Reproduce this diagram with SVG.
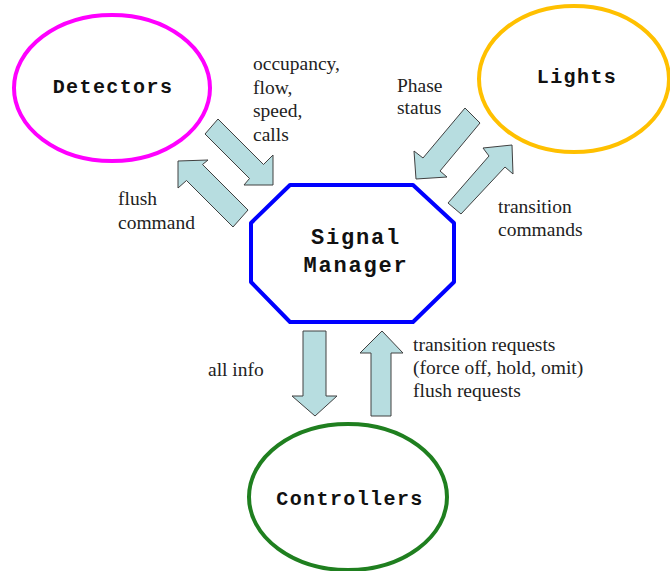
<svg xmlns="http://www.w3.org/2000/svg" width="670" height="571" viewBox="0 0 670 571">
<style>
.mono{font-family:"Liberation Mono","Courier New",monospace;font-weight:bold;font-size:20px;letter-spacing:1.4px;fill:#111;text-anchor:middle}
.big{font-size:22px;letter-spacing:1.8px}
.lbl{font-family:"Liberation Serif","Times New Roman",serif;font-size:19.5px;fill:#222}
.arrow{fill:#B7DDE0;stroke:#404040;stroke-width:1;stroke-linejoin:miter}
</style>
<rect width="670" height="571" fill="#fff"/>
<g id="detectors">
<ellipse cx="112" cy="88" rx="98" ry="73" fill="none" stroke="#FF00FF" stroke-width="4"/>
<text class="mono" x="113" y="92.5">Detectors</text>
</g>
<g id="lights">
<ellipse cx="574" cy="79" rx="95" ry="73" fill="none" stroke="#FFC000" stroke-width="4"/>
<text class="mono" x="577" y="83">Lights</text>
</g>
<g id="signal-manager">
<polygon points="290,185 413,185 454,223 454,282 413,322 290,322 251,282 251,223" fill="#fff" stroke="#0000FF" stroke-width="4" stroke-linejoin="round"/>
<text class="mono big" x="356" y="244">Signal</text>
<text class="mono big" x="356" y="272">Manager</text>
</g>
<g id="controllers">
<ellipse cx="348" cy="497" rx="99" ry="73" fill="none" stroke="#1F7F1F" stroke-width="4"/>
<text class="mono" x="350" y="505">Controllers</text>
</g>
<g id="connectors">
<polygon class="arrow" points="218,119 263.5,164.5 273,155 273,185 244,185 249.5,178.5 205,134"/>
<polygon class="arrow" points="248,210 202.5,164.5 208,160 178,161 178,188 186.5,180.5 233,227"/>
<polygon class="arrow" points="465,108 480,123 440,171 447,177 416,179 414,151 423,158"/>
<polygon class="arrow" points="448,203 489,156 483,148 512,145 513,174 505,167 461,214"/>
<polygon class="arrow" points="303,331 326,331 326,396 337,396 315,416 292,396 303,396"/>
<polygon class="arrow" points="371,416 391,416 391,353 403,353 382,331 360,353 371,353"/>
</g>
<g id="labels">
<text class="lbl" x="253" y="70">occupancy,</text>
<text class="lbl" x="253" y="93.5">flow,</text>
<text class="lbl" x="253" y="117">speed,</text>
<text class="lbl" x="253" y="140.5">calls</text>
<text class="lbl" x="118" y="205">flush</text>
<text class="lbl" x="118" y="229">command</text>
<text class="lbl" x="397" y="92">Phase</text>
<text class="lbl" x="397" y="114">status</text>
<text class="lbl" x="498" y="213">transition</text>
<text class="lbl" x="498" y="236">commands</text>
<text class="lbl" x="208" y="376">all info</text>
<text class="lbl" x="413" y="351">transition requests</text>
<text class="lbl" x="413" y="374">(force off, hold, omit)</text>
<text class="lbl" x="413" y="397">flush requests</text>
</g>
</svg>
